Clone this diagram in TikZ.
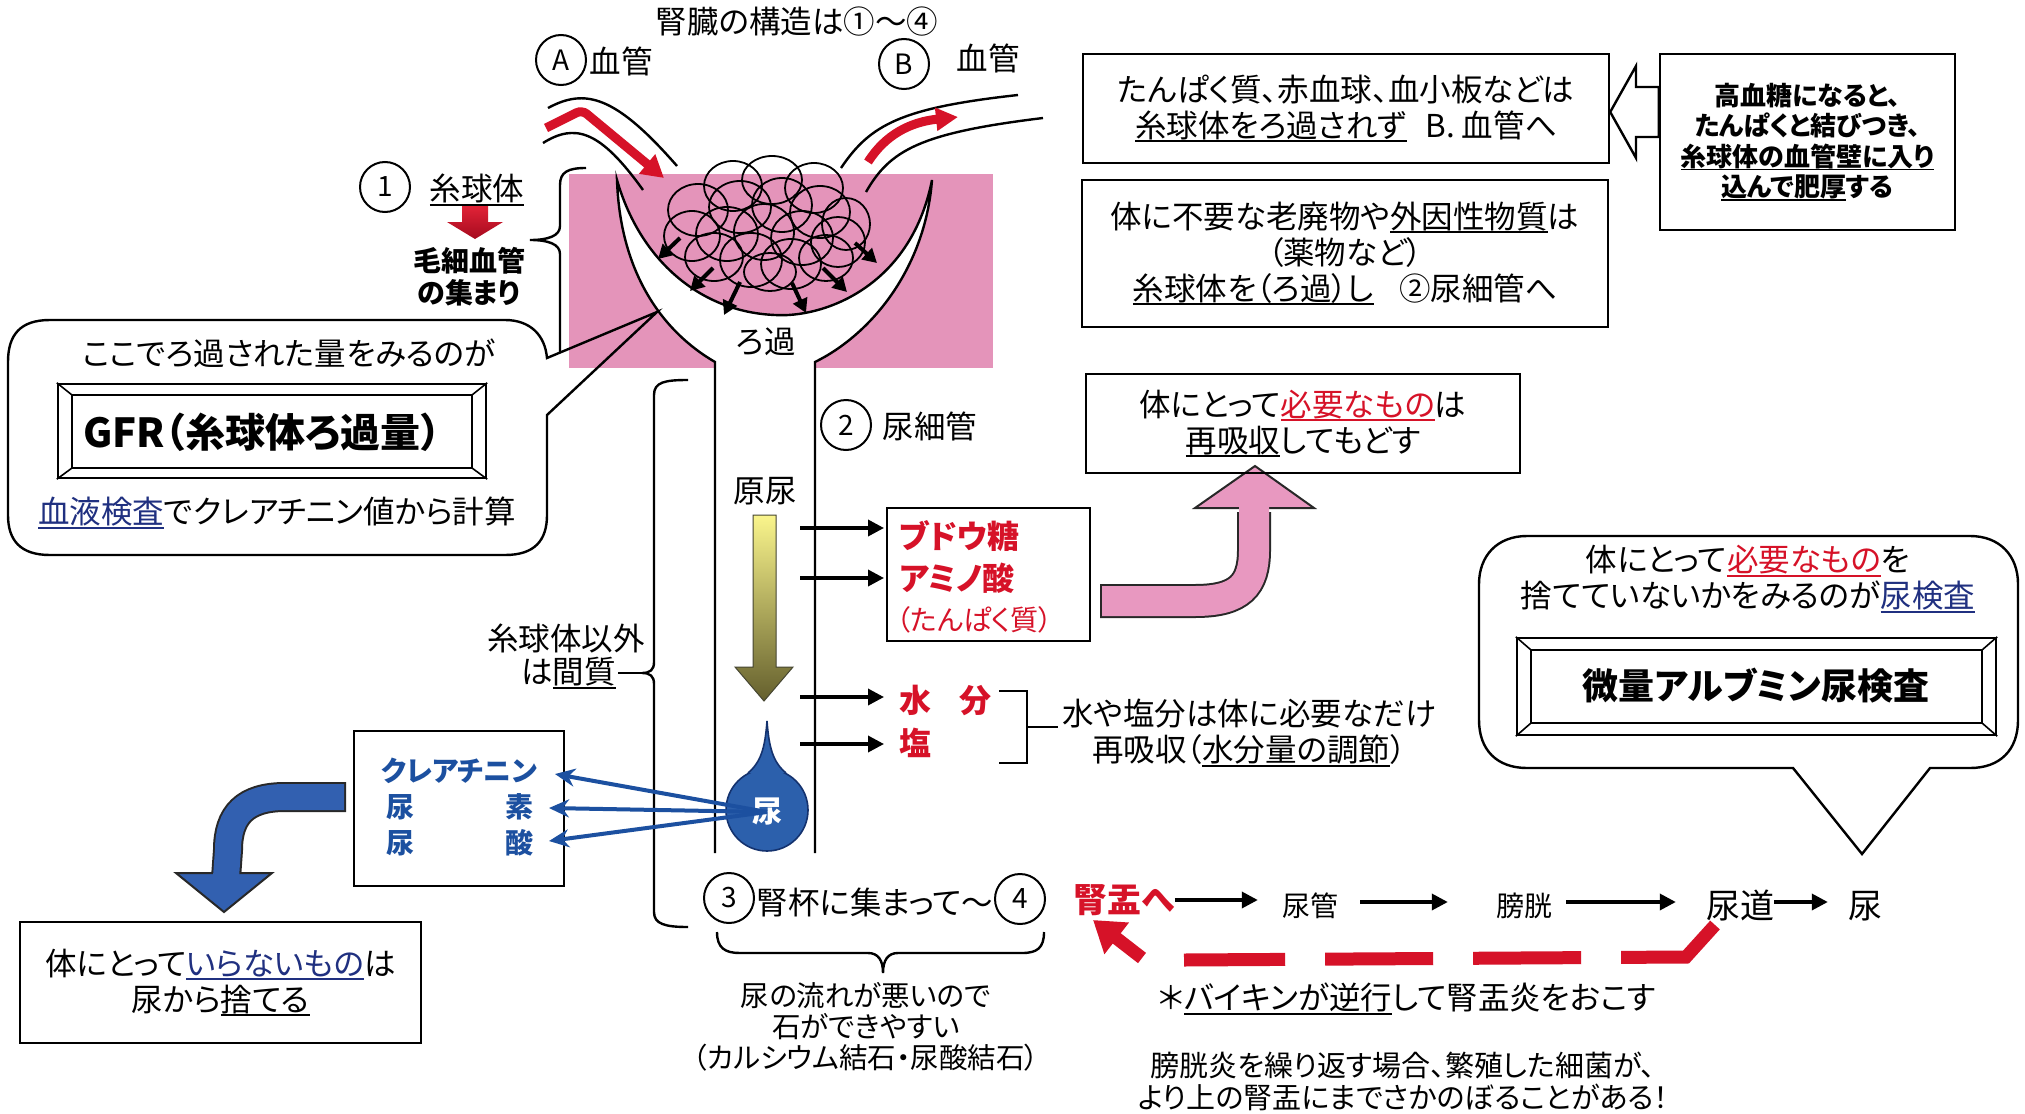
\documentclass[tikz,border=0pt]{standalone}
\usepackage{fontspec}
\setmainfont{Noto Sans CJK JP}[RawFeature=+palt]
\usetikzlibrary{arrows.meta,calc}
\definecolor{pinkbg}{RGB}{228,148,186}
\definecolor{jred}{RGB}{214,18,40}
\definecolor{jblue}{RGB}{28,80,160}
\definecolor{jnavy}{RGB}{32,48,128}
\definecolor{ballblue}{RGB}{44,96,172}
\definecolor{dkblue}{RGB}{20,50,110}
\definecolor{pinkarrow}{RGB}{232,152,192}
\definecolor{arrowblue}{RGB}{50,96,176}
\definecolor{edge}{RGB}{40,40,40}
\definecolor{redtop}{RGB}{225,35,55}
\definecolor{redbot}{RGB}{165,10,30}
\definecolor{ylw}{RGB}{250,245,140}
\definecolor{olive}{RGB}{100,95,45}
\definecolor{oliveedge}{RGB}{70,70,50}
% underline whose rule takes the current colour
\newcommand\undl[1]{\setbox0\hbox{#1}\rlap{\rule[-0.16em]{\wd0}{0.07em}}\box0}
\begin{document}
\begin{tikzpicture}[x=1pt,y=-1pt,
  every node/.style={inner sep=0pt, align=center},
  t/.style={font=\fontsize{31.5}{36}\selectfont},
  tm/.style={font=\fontsize{28}{31}\selectfont},
  tb/.style={font=\fontsize{32}{42}\selectfont\bfseries},
  ts/.style={font=\fontsize{26}{30.5}\selectfont\bfseries},
  box/.style={draw, line width=2.4pt},
  ln/.style={line width=2.4pt},
  flow/.style={line width=3.5pt, -{Triangle[length=16pt,width=16pt]}},
  circ/.style={draw, circle, line width=2pt, minimum size=50pt, font=\fontsize{28}{30}\selectfont},
  bluearr/.style={jblue, line width=4pt, -{Stealth[length=20pt,width=18pt]}},
  cloudarr/.style={line width=4pt, -{Triangle[length=14pt,width=15pt]}},
]
\fill[white] (0,0) rectangle (2025,1113);
\path[use as bounding box] (0,0) rectangle (2025,1113);

% ---------- glomerulus ----------
\node[t] (title) at (797,22) {腎臓の構造は①～④};
\node[circ] (cA) at (561,60) {A};
\node[t] (vA) at (621,61) {血管};
\node[circ] (cB) at (904,64) {B};
\node[t] (vB) at (988,58) {血管};

\fill[pinkbg] (569,174) rectangle (993,368);

% afferent / efferent vessels
\draw[ln] (548,108) .. controls (585,88) and (615,95) .. (677,166);
\draw[ln] (543,143) .. controls (575,123) and (600,130) .. (643,190);
\draw[ln] (841,168) .. controls (870,125) and (900,108) .. (1018,95);
\draw[ln] (866,192) .. controls (890,150) and (920,133) .. (1043,118);
\draw[jred, line width=9pt, rounded corners=6pt, -{Triangle[length=22pt,width=24pt]}] (546,128) -- (582,110) -- (664,178);
\draw[jred, line width=9pt, -{Triangle[length=22pt,width=22pt]}] (868,162) .. controls (885,135) and (910,122) .. (958,117);

% Bowman's capsule and tubule walls
\fill[white] (617,180) .. controls (620,270) and (660,330) .. (715,362) -- (715,372) -- (815,372) -- (815,362)
  .. controls (870,335) and (925,270) .. (932,180) .. controls (910,290) and (820,318) .. (775,315)
  .. controls (700,312) and (640,260) .. (617,180) -- cycle;
\draw[ln] (715,853) -- (715,362) .. controls (660,330) and (620,270) .. (617,180)
  .. controls (640,260) and (700,312) .. (775,315) .. controls (820,318) and (910,290) .. (932,180)
  .. controls (925,270) and (870,335) .. (815,362) -- (815,853);

% capillary tuft
\foreach \x/\y/\a/\b in {733/186/29/25, 772/180/30/24, 814/188/29/25, 698/210/30/26, 740/207/31/26,
  782/205/30/27, 820/212/30/26, 846/224/24/26, 692/236/28/25, 727/234/31/27, 764/232/30/28,
  802/238/31/27, 838/242/27/25, 714/257/29/24, 751/260/31/27, 791/264/30/25, 826/258/27/23, 770/272/26/19}
  \draw[line width=1.8pt] (\x,\y) ellipse [x radius=\a pt, y radius=\b pt];
\foreach \a/\b/\c/\d in {680/238/658/259, 713/268/690/291, 740/282/724/315, 792/283/806/313, 823/268/847/292, 855/243/877/263}
  \draw[cloudarr] (\a,\b) -- (\c,\d);
\node[t] (roka) at (766,342) {ろ過};

% (1) glomerulus label
\node[circ] (c1) at (385,187) {1};
\node[t] (glom) at (477,190) {\undl{糸球体}};
\shade[top color=redtop, bottom color=redbot]
  (462,206) -- (488,206) -- (488,222) -- (503,222) -- (475,239) -- (447,222) -- (462,222) -- cycle;
\node[font=\fontsize{28}{32}\selectfont\bfseries] (capil) at (469,277) {毛細血管\\の集まり};
\draw[ln] (586,168) .. controls (568,168) and (560,172) .. (560,185) -- (560,226)
  .. controls (560,236) and (548,240) .. (530,240) .. controls (548,240) and (560,244) .. (560,254) -- (560,352);

% GFR callout
\draw[ln] (547,415) -- (547,515) .. controls (547,540) and (535,555) .. (505,555) -- (50,555)
  .. controls (20,555) and (8,540) .. (8,515) -- (8,362) .. controls (8,335) and (20,320) .. (50,320)
  -- (505,320) .. controls (530,320) and (545,335) .. (547,358) -- (657,312) -- cycle;
\node[t] (gfrq) at (289,353) {ここでろ過された量をみるのが};
\node[draw, line width=2.4pt, minimum width=428pt, minimum height=94pt] (gfrbox) at (272,431) {};
\draw[ln] (72,395) rectangle (472,468);
\draw[line width=1.6pt] (gfrbox.north west) -- (72,395) (gfrbox.north east) -- (472,395)
  (gfrbox.south west) -- (72,468) (gfrbox.south east) -- (472,468);
\node[font=\fontsize{40}{44}\selectfont\bfseries] (gfr) at (262,432) {GFR（糸球体ろ過量）};
\node[t] (gfrcalc) at (277,513) {{\color{jnavy}\undl{血液検査}}でクレアチニン値から計算};

% interstitium bracket
\coordinate (kantip) at (642,673);
\draw[ln] (688,380) .. controls (665,380) and (654,382) .. (654,395) -- (654,662)
  .. controls (654,670) and (650,673) .. (kantip) .. controls (650,673) and (654,676) .. (654,684)
  -- (654,912) .. controls (654,924) and (665,927) .. (688,927);
\node[t] (igai) at (566,638) {糸球体以外};
\node[t, anchor=east] (kan) at (616,673) {は\undl{間質}};
\draw[ln] ([xshift=2pt]kan.east) -- (kantip);

% (2) tubule
\node[circ] (c2) at (846,425) {2};
\node[t] (tubule) at (930,426) {尿細管};
\node[t] (genryo) at (765,491) {原尿};
\shade[top color=ylw, bottom color=olive, draw=oliveedge, line width=1pt]
  (753,515) -- (776,515) -- (776,667) -- (793,667) -- (764,701) -- (735,667) -- (753,667) -- cycle;

% urine drop
\filldraw[fill=ballblue, draw=dkblue, line width=1.6pt] (767,810) circle [radius=41pt];
\fill[ballblue] (767,721) .. controls (769,748) and (773,762) .. (786,773) -- (748,773) .. controls (761,762) and (765,748) .. (767,721) -- cycle;
\draw[dkblue, line width=1.6pt] (786,773) .. controls (773,762) and (769,748) .. (767,721) .. controls (765,748) and (761,762) .. (748,773);
\node[font=\fontsize{30}{32}\selectfont\bfseries, text=white] (ball) at (767,812) {尿};

% reabsorption arrows
\foreach \yy in {528,578,697,744}
  \draw[flow] (800,\yy) -- (884,\yy);
\node[box, minimum width=203pt, minimum height=133pt] (gbox) at (988.5,574.5) {};
\node[tb, text=jred, anchor=west] (glu) at (899,536) {ブドウ糖};
\node[tb, text=jred, anchor=west] (amino) at (899,578) {アミノ酸};
\node[tm, text=jred, anchor=west] (prot) at (896,620) {（たんぱく質）};
\node[tb, text=jred, anchor=west] (water) at (899,700) {水\hspace{0.9em}分};
\node[tb, text=jred, anchor=west] (salt) at (899,743) {塩};
\draw[ln] (999,691) -- (1027,691) -- (1027,763) -- (999,763);
\draw[ln] (1027,727) -- (1058,727);
\node[t] (wsalt) at (1249,733) {水や塩分は体に必要なだけ\\再吸収（\undl{水分量の調節}）};

% pink bent arrow
\draw[edge, line width=34pt] (1100,601) -- (1195,601) .. controls (1240,601) and (1254,585) .. (1254,550) -- (1254,512);
\filldraw[fill=pinkarrow, draw=edge, line width=2pt] (1195,508) -- (1255,466) -- (1314,508) -- cycle;
\draw[pinkarrow, line width=30pt] (1102,601) -- (1195,601) .. controls (1240,601) and (1254,585) .. (1254,550) -- (1254,506);
\node[box, minimum width=434pt, minimum height=99pt, t] (need) at (1303,423.5) {体にとって{\color{jred}\undl{必要なもの}}は\\\undl{再吸収}してもどす};

% top right notes
\node[box, minimum width=526pt, minimum height=109pt, t] (b1) at (1346,108.5) {たんぱく質、赤血球、血小板などは\\\undl{糸球体をろ過されず}\hspace{0.6em}B. 血管へ};
\node[box, minimum width=526pt, minimum height=147pt, t] (b2) at (1345,253.5) {体に不要な老廃物や\undl{外因性物質}は\\（薬物など）\\\undl{糸球体を（ろ過）し}\hspace{0.8em}②尿細管へ};
\node[box, minimum width=295pt, minimum height=176pt, ts] (b3) at (1807.5,142) {高血糖になると、\\たんぱくと結びつき、\\\undl{糸球体の血管壁に入り}\\\undl{込んで肥厚}する};
\draw[ln, fill=white] (b1.east |- 0,112) -- (1636,66) -- (1636,87) -- (b3.west |- 0,87) -- (b3.west |- 0,137) -- (1636,137) -- (1636,158) -- cycle;

% creatinine / urea / uric acid
\node[box, minimum width=210pt, minimum height=155pt] (cbox) at (459,808.5) {};
\node[font=\fontsize{28}{30}\selectfont\bfseries, text=jblue] (crea) at (459,771) {クレアチニン};
\node[font=\fontsize{28}{30}\selectfont\bfseries, text=jblue] (u1) at (400,807) {尿};
\node[font=\fontsize{28}{30}\selectfont\bfseries, text=jblue] (u2) at (519,807) {素};
\node[font=\fontsize{28}{30}\selectfont\bfseries, text=jblue] (u3) at (400,843) {尿};
\node[font=\fontsize{28}{30}\selectfont\bfseries, text=jblue] (u4) at (519,843) {酸};
\draw[bluearr] (ball.center) -- (555,774);
\draw[bluearr] (ball.center) -- (549,808);
\draw[bluearr] (ball.center) -- (549,841);

% blue bent arrow
\draw[edge, line width=30pt] (346,797) -- (285,797) .. controls (245,797) and (228,815) .. (228,850) -- (226,878);
\filldraw[fill=arrowblue, draw=edge, line width=2pt] (176,873) -- (272,873) -- (224,912) -- cycle;
\draw[arrowblue, line width=26pt] (344,797) -- (285,797) .. controls (245,797) and (228,815) .. (228,850) -- (226,877);
\node[box, minimum width=401pt, minimum height=121pt, t] (waste) at (220.5,982.5) {体にとって{\color{jnavy}\undl{いらないもの}}は\\尿から\undl{捨てる}};

% (3)-(4) calyx
\node[circ] (c3) at (729,898) {3};
\node[t] (calyx) at (875,902) {腎杯に集まって～};
\node[circ] (c4) at (1020,899) {4};
\draw[ln] (717,932) .. controls (717,948) and (725,953) .. (740,953) -- (868,953)
  .. controls (878,953) and (883,960) .. (883,973) .. controls (883,960) and (888,953) .. (898,953)
  -- (1022,953) .. controls (1037,953) and (1044,948) .. (1044,932);
\node[font=\fontsize{28.5}{31}\selectfont] (stone) at (866,1027) {尿の流れが悪いので\\石ができやすい\\（カルシウム結石・尿酸結石）};

% urinary tract flow
\node[font=\fontsize{34}{36}\selectfont\bfseries, text=jred] (pelvis) at (1124,900) {腎盂へ};
\node[tm] (ureter) at (1310,906) {尿管};
\node[tm] (bladder) at (1524,906) {膀胱};
\node[font=\fontsize{34}{36}\selectfont] (urethra) at (1740,906) {尿道};
\node[font=\fontsize{34}{36}\selectfont] (urine) at (1865,906) {尿};
\draw[flow, shorten >=24pt] (pelvis.east) -- (pelvis.east -| ureter.west);
\draw[flow, shorten <=22pt, shorten >=48pt] (ureter.east |- 0,902) -- (bladder.west |- 0,902);
\draw[flow, shorten <=14pt, shorten >=30pt] (bladder.east |- 0,902) -- (urethra.west |- 0,902);
\draw[flow, shorten >=20pt] (urethra.east |- 0,902) -- (urine.west |- 0,902);

% retrograde infection
\draw[jred, line width=13pt, dash pattern=on 108pt off 40pt] (1715,925) -- (1686,957) -- (1184,960);
\draw[jred, line width=13pt, -{Triangle[length=30pt,width=38pt]}] (1142,958) -- (1093,920);
\node[t] (germ) at (1407,999) {＊\undl{バイキンが逆行}して腎盂炎をおこす};
\node[font=\fontsize{29}{32}\selectfont] (cyst) at (1403,1081) {膀胱炎を繰り返す場合、繁殖した細菌が、\\より上の腎盂にまでさかのぼることがある！};

% urine test callout
\draw[ln] (1862,854) -- (1930,768) -- (1970,768) .. controls (2000,768) and (2018,750) .. (2018,720)
  -- (2018,584) .. controls (2018,556) and (2000,536) .. (1970,536) -- (1527,536)
  .. controls (1497,536) and (1479,556) .. (1479,584) -- (1479,720) .. controls (1479,750) and (1497,768) .. (1527,768)
  -- (1793,768) -- cycle;
\node[t] (utest) at (1748,579) {体にとって{\color{jred}\undl{必要なもの}}を\\捨てていないかをみるのが{\color{jnavy}\undl{尿検査}}};
\node[draw, line width=2.4pt, minimum width=479pt, minimum height=97pt] (albbox) at (1756.5,686.5) {};
\draw[ln] (1531,650) rectangle (1982,723);
\draw[line width=1.6pt] (albbox.north west) -- (1531,650) (albbox.north east) -- (1982,650)
  (albbox.south west) -- (1531,723) (albbox.south east) -- (1982,723);
\node[font=\fontsize{36}{40}\selectfont\bfseries] (alb) at (1756,686) {微量アルブミン尿検査};
\end{tikzpicture}
\end{document}
